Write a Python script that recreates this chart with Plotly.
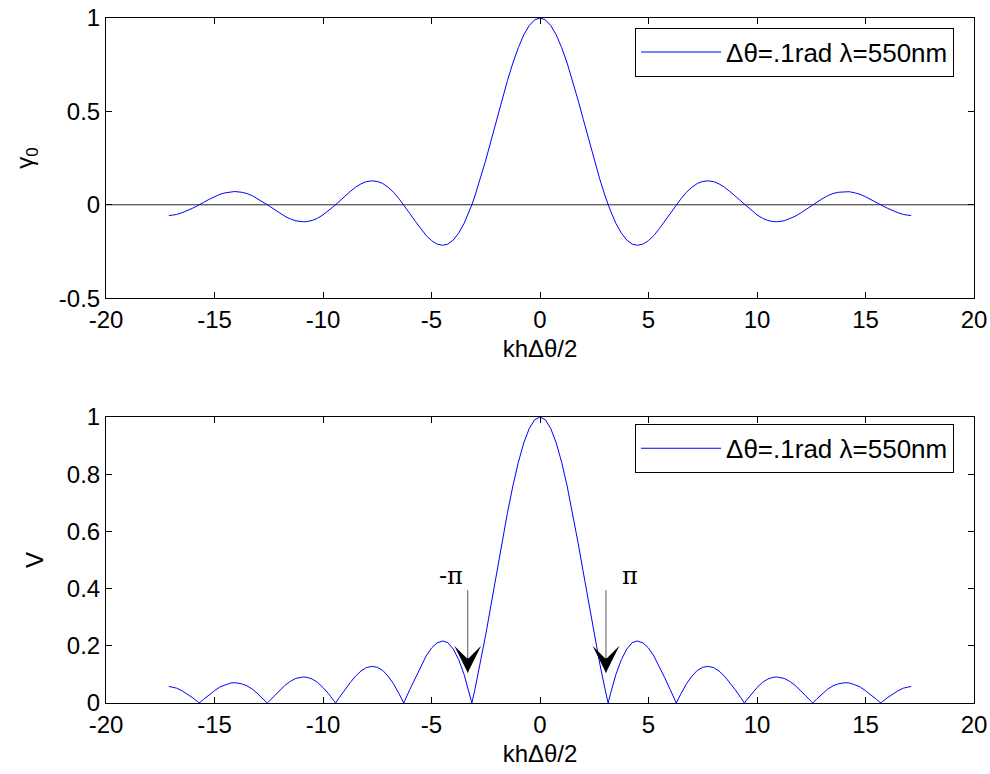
import plotly.graph_objects as go

# Sample positions along kh*dtheta/2 (zero crossings and extrema included)
x_pos = [0.0, 0.25, 0.5, 0.75, 1.0, 1.25, 1.5, 1.75, 2.0, 2.25, 2.5, 2.75, 3.0, 3.14,
         3.25, 3.5, 3.75, 4.0, 4.25, 4.49, 4.75, 5.0, 5.25, 5.5, 5.75, 6.0, 6.28,
         6.5, 6.75, 7.0, 7.25, 7.5, 7.73, 8.0, 8.25, 8.5, 8.75, 9.0, 9.25, 9.42,
         9.5, 9.75, 10.0, 10.25, 10.5, 10.75, 10.9, 11.25, 11.5, 11.75, 12.0, 12.25,
         12.5, 12.57, 12.75, 13.0, 13.25, 13.5, 13.75, 14.07, 14.25, 14.5, 14.75,
         15.0, 15.25, 15.5, 15.71, 15.75, 16.0, 16.25, 16.5, 16.75, 17.0, 17.1]

# Coherence gamma_0 at those positions (curve is even in x)
gamma_pos = [1.000, 0.990, 0.959, 0.909, 0.841, 0.759, 0.665, 0.562, 0.455, 0.346,
             0.239, 0.139, 0.047, 0.000, -0.033, -0.100, -0.152, -0.189, -0.211,
             -0.217, -0.210, -0.192, -0.164, -0.128, -0.088, -0.047, 0.000, 0.033,
             0.067, 0.094, 0.114, 0.125, 0.128, 0.124, 0.112, 0.094, 0.071, 0.046,
             0.019, 0.000, -0.008, -0.033, -0.054, -0.072, -0.084, -0.090, -0.091,
             -0.086, -0.076, -0.062, -0.045, -0.025, -0.005, 0.000, 0.014, 0.032,
             0.048, 0.060, 0.067, 0.071, 0.070, 0.064, 0.056, 0.043, 0.029, 0.013,
             0.000, -0.003, -0.018, -0.032, -0.043, -0.052, -0.057, -0.058]

# Fringe visibility V at the same positions
vis_pos = [1.000, 0.990, 0.959, 0.909, 0.841, 0.759, 0.665, 0.562, 0.455, 0.346,
           0.239, 0.139, 0.047, 0.000, 0.033, 0.100, 0.152, 0.189, 0.211,
           0.217, 0.210, 0.192, 0.164, 0.128, 0.088, 0.047, 0.000, 0.033,
           0.067, 0.094, 0.114, 0.125, 0.128, 0.124, 0.112, 0.094, 0.071, 0.046,
           0.019, 0.000, 0.008, 0.033, 0.054, 0.072, 0.084, 0.090, 0.091,
           0.086, 0.076, 0.062, 0.045, 0.025, 0.005, 0.000, 0.014, 0.032,
           0.048, 0.060, 0.067, 0.071, 0.070, 0.064, 0.056, 0.043, 0.029, 0.013,
           0.000, 0.003, 0.018, 0.032, 0.043, 0.052, 0.057, 0.058]

# Mirror to cover the negative half of the axis
x_vals = [-v for v in reversed(x_pos[1:])] + x_pos
gamma_vals = list(reversed(gamma_pos[1:])) + gamma_pos
vis_vals = list(reversed(vis_pos[1:])) + vis_pos

x_ticks = [-20, -15, -10, -5, 0, 5, 10, 15, 20]
x_labels = ["-20", "-15", "-10", "-5", "0", "5", "10", "15", "20"]
y1_ticks = [-0.5, 0, 0.5, 1]
y1_labels = ["-0.5", "0", "0.5", "1"]
y2_ticks = [0, 0.2, 0.4, 0.6, 0.8, 1]
y2_labels = ["0", "0.2", "0.4", "0.6", "0.8", "1"]

legend_text = "Δθ=.1rad λ=550nm"
x_title = "khΔθ/2"

FONT = "Liberation Sans, Arial, sans-serif"
BLUE = "rgb(0,0,255)"

fig = go.Figure()

# baseline at gamma = 0
fig.add_trace(go.Scatter(x=[-20, 20], y=[0, 0], mode="lines",
                         line=dict(color="rgb(40,40,40)", width=1),
                         showlegend=False, hoverinfo="skip",
                         xaxis="x", yaxis="y"))
fig.add_trace(go.Scatter(x=x_vals, y=gamma_vals, mode="lines", name=legend_text,
                         line=dict(color=BLUE, width=1), legend="legend",
                         xaxis="x", yaxis="y"))
fig.add_trace(go.Scatter(x=x_vals, y=vis_vals, mode="lines", name=legend_text,
                         line=dict(color=BLUE, width=1), legend="legend2",
                         xaxis="x2", yaxis="y2"))

axis_common = dict(showline=True, linecolor="black", linewidth=1, mirror="ticks",
                   ticks="inside", ticklen=6, tickcolor="black", showgrid=False,
                   zeroline=False, automargin=False,
                   tickfont=dict(family=FONT, size=24, color="black"))
title_font = dict(family=FONT, size=24, color="black")

legend_common = dict(xanchor="right", yanchor="top", bgcolor="white",
                     bordercolor="black", borderwidth=1, itemwidth=80,
                     font=dict(family=FONT, size=26, color="black"))

fig.update_layout(
    width=990, height=774,
    margin=dict(l=106, r=16, t=18, b=71),
    paper_bgcolor="white", plot_bgcolor="white",
    xaxis=dict(domain=[0, 1], range=[-20, 20], tickvals=x_ticks, ticktext=x_labels,
               anchor="y", title=dict(text=x_title, font=title_font, standoff=8),
               **axis_common),
    yaxis=dict(domain=[0.591, 1], range=[-0.5, 1], tickvals=y1_ticks, ticktext=y1_labels,
               anchor="x", title=dict(text="γ<sub>0</sub>", font=title_font, standoff=18),
               **axis_common),
    xaxis2=dict(domain=[0, 1], range=[-20, 20], tickvals=x_ticks, ticktext=x_labels,
                anchor="y2", title=dict(text=x_title, font=title_font, standoff=8),
                **axis_common),
    yaxis2=dict(domain=[0, 0.4175], range=[0, 1], tickvals=y2_ticks, ticktext=y2_labels,
                anchor="x2", title=dict(text="V", font=title_font, standoff=16),
                **axis_common),
    legend=dict(x=0.977, y=0.986, **legend_common),
    legend2=dict(x=0.977, y=0.4075, **legend_common),
)

# arrows marking the first zeros at -pi and +pi
arrow_marks = [(-3.33, "-π", -4.1), (3.04, "π", 4.14)]
for xa, label, xt in arrow_marks:
    fig.add_annotation(x=xa, y=0.106, ax=xa, ay=0.40, xref="x2", yref="y2",
                       axref="x2", ayref="y2", showarrow=True, arrowhead=0,
                       arrowwidth=1, arrowcolor="rgb(90,90,90)", text="")
    fig.add_annotation(x=xa, y=0.106, ax=xa, ay=0.16, xref="x2", yref="y2",
                       axref="x2", ayref="y2", showarrow=True, arrowhead=3,
                       arrowsize=3.2, arrowwidth=1.4, arrowcolor="black", text="",
                       standoff=0)
    fig.add_annotation(x=xt, y=0.445, xref="x2", yref="y2", text=label,
                       showarrow=False,
                       font=dict(family="DejaVu Serif, serif", size=24, color="black"))

fig.write_html("out.html")
